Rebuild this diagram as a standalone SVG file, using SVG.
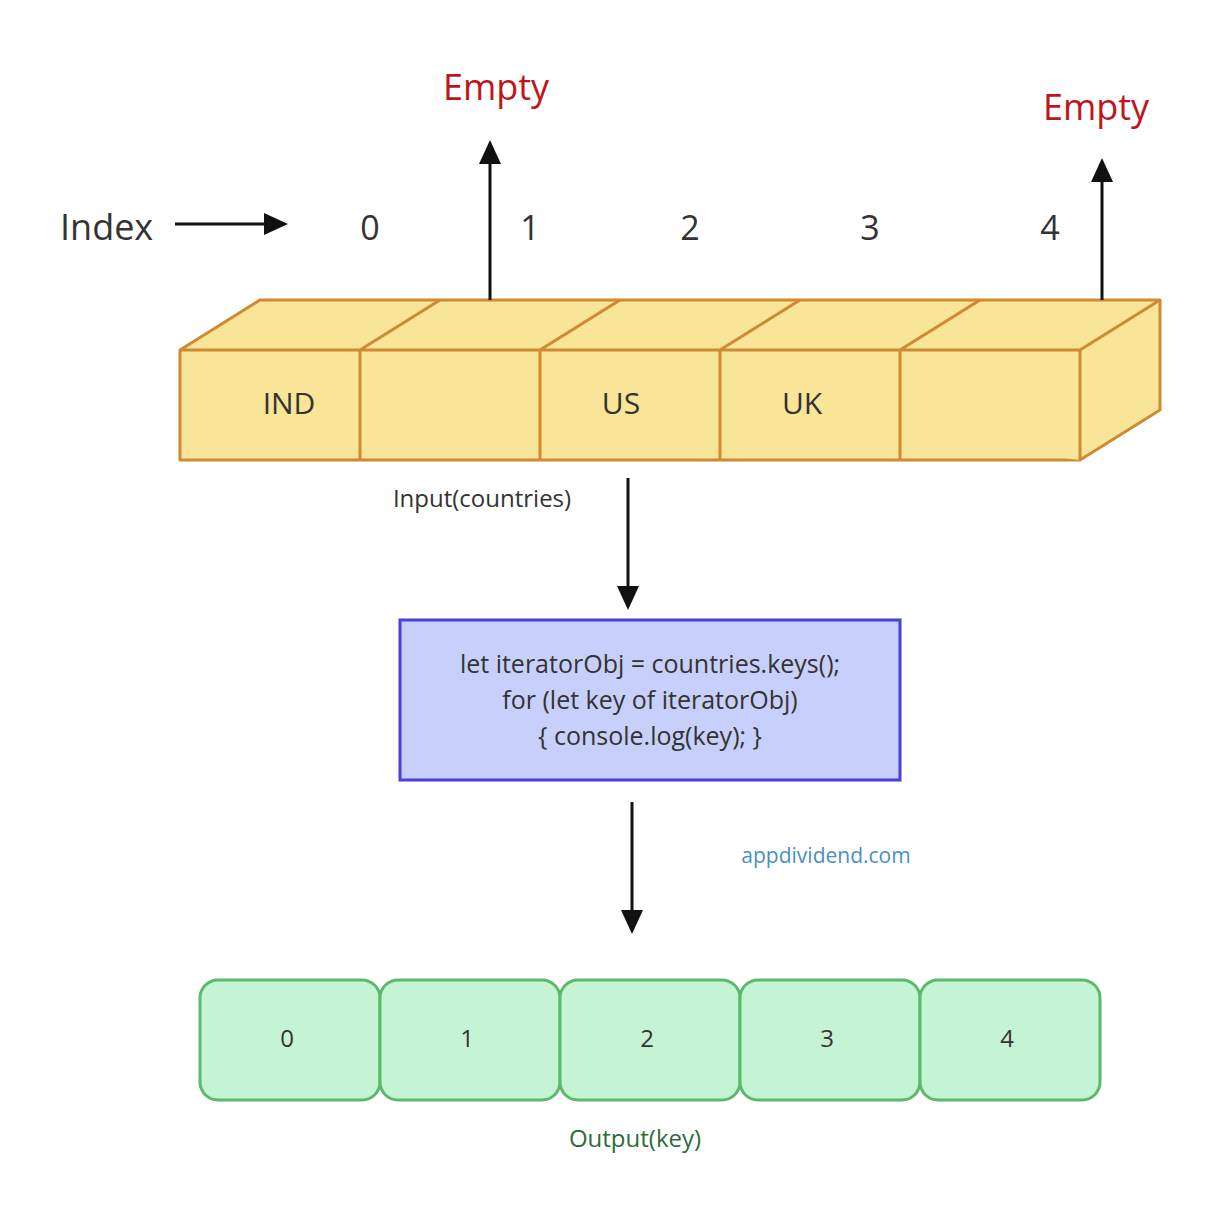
<svg xmlns="http://www.w3.org/2000/svg" width="1220" height="1220" viewBox="0 0 1220 1220">
<style>
.t{font-family:"Open Sans","Noto Sans",sans-serif;fill:#333}
.box{fill:#f9e597;stroke:#d08a33;stroke-width:3;stroke-linejoin:round}
.g{fill:#c5f4d4;stroke:#5cb86a;stroke-width:3}
.c{stroke:#111;stroke-width:3;fill:none}
</style>
<defs><marker id="a" markerWidth="10" markerHeight="10" refX="9" refY="5" orient="auto" markerUnits="userSpaceOnUse" viewBox="0 0 10 10"><path d="M0,0L10,5L0,10z" fill="#111"/></marker>
<marker id="b" markerWidth="26" markerHeight="26" refX="20" refY="13" orient="auto" markerUnits="userSpaceOnUse" viewBox="0 0 26 26"><path d="M0,2L24,13L0,24z" fill="#111"/></marker></defs>
<rect width="1220" height="1220" fill="#fff"/>
<g id="index"><text class="t" x="60" y="240" font-size="36" fill="#444">Index</text></g>
<g id="nums" class="t" font-size="34" text-anchor="middle">
<text x="370" y="240" class="t">0</text><text x="530" y="240" class="t">1</text><text x="690" y="240" class="t">2</text><text x="870" y="240" class="t">3</text><text x="1050" y="240" class="t">4</text></g>
<g id="empty1"><text x="496" y="100" font-size="36" text-anchor="middle" font-family="Open Sans,sans-serif" fill="#c0141c">Empty</text></g>
<g id="empty2"><text x="1096" y="120" font-size="36" text-anchor="middle" font-family="Open Sans,sans-serif" fill="#c0141c">Empty</text></g>
<g id="array">
<path class="box" d="M180,350L260,300L1160,300L1160,410L1080,460L180,460Z"/>
<path class="box" fill="none" d="M180,350H1080V460M1080,350L1160,300M360,350L440,300M540,350L620,300M720,350L800,300M900,350L980,300M360,350V460M540,350V460M720,350V460M900,350V460"/>
<text class="t" x="289" y="414" font-size="30" text-anchor="middle">IND</text>
<text class="t" x="621" y="414" font-size="30" text-anchor="middle">US</text>
<text class="t" x="802" y="414" font-size="30" text-anchor="middle">UK</text>
<text class="t" x="482" y="507" font-size="24" text-anchor="middle">Input(countries)</text>
</g>
<g id="code">
<rect x="400" y="620" width="500" height="160" fill="#c7d0fa" stroke="#4b3fd6" stroke-width="3"/>
<text class="t" font-size="25" text-anchor="middle"><tspan x="650" y="673">let iteratorObj = countries.keys();</tspan><tspan x="650" y="709">for (let key of iteratorObj)</tspan><tspan x="650" y="745">{ console.log(key); }</tspan></text>
</g>
<g id="site"><text x="826" y="863" font-size="21" text-anchor="middle" font-family="Open Sans,sans-serif" fill="#4a90c8">appdividend.com</text></g>
<g id="output" class="t" font-size="24" text-anchor="middle">
<rect class="g" x="200" y="980" width="180" height="120" rx="18"/>
<rect class="g" x="380" y="980" width="180" height="120" rx="18"/>
<rect class="g" x="560" y="980" width="180" height="120" rx="18"/>
<rect class="g" x="740" y="980" width="180" height="120" rx="18"/>
<rect class="g" x="920" y="980" width="180" height="120" rx="18"/>
<text class="t" x="287" y="1047">0</text><text class="t" x="467" y="1047">1</text><text class="t" x="647" y="1047">2</text><text class="t" x="827" y="1047">3</text><text class="t" x="1007" y="1047">4</text>
<text x="635" y="1147" font-family="Open Sans,sans-serif" fill="#2e6b3a">Output(key)</text>
</g>
<g id="connectors" class="c">
<line x1="175" y1="224" x2="284" y2="224" marker-end="url(#b)"/>
<line x1="490" y1="300" x2="490" y2="144" marker-end="url(#b)"/>
<line x1="1102" y1="300" x2="1102" y2="162" marker-end="url(#b)"/>
<line x1="628" y1="478" x2="628" y2="606" marker-end="url(#b)"/>
<line x1="632" y1="802" x2="632" y2="930" marker-end="url(#b)"/>
</g>
</svg>
